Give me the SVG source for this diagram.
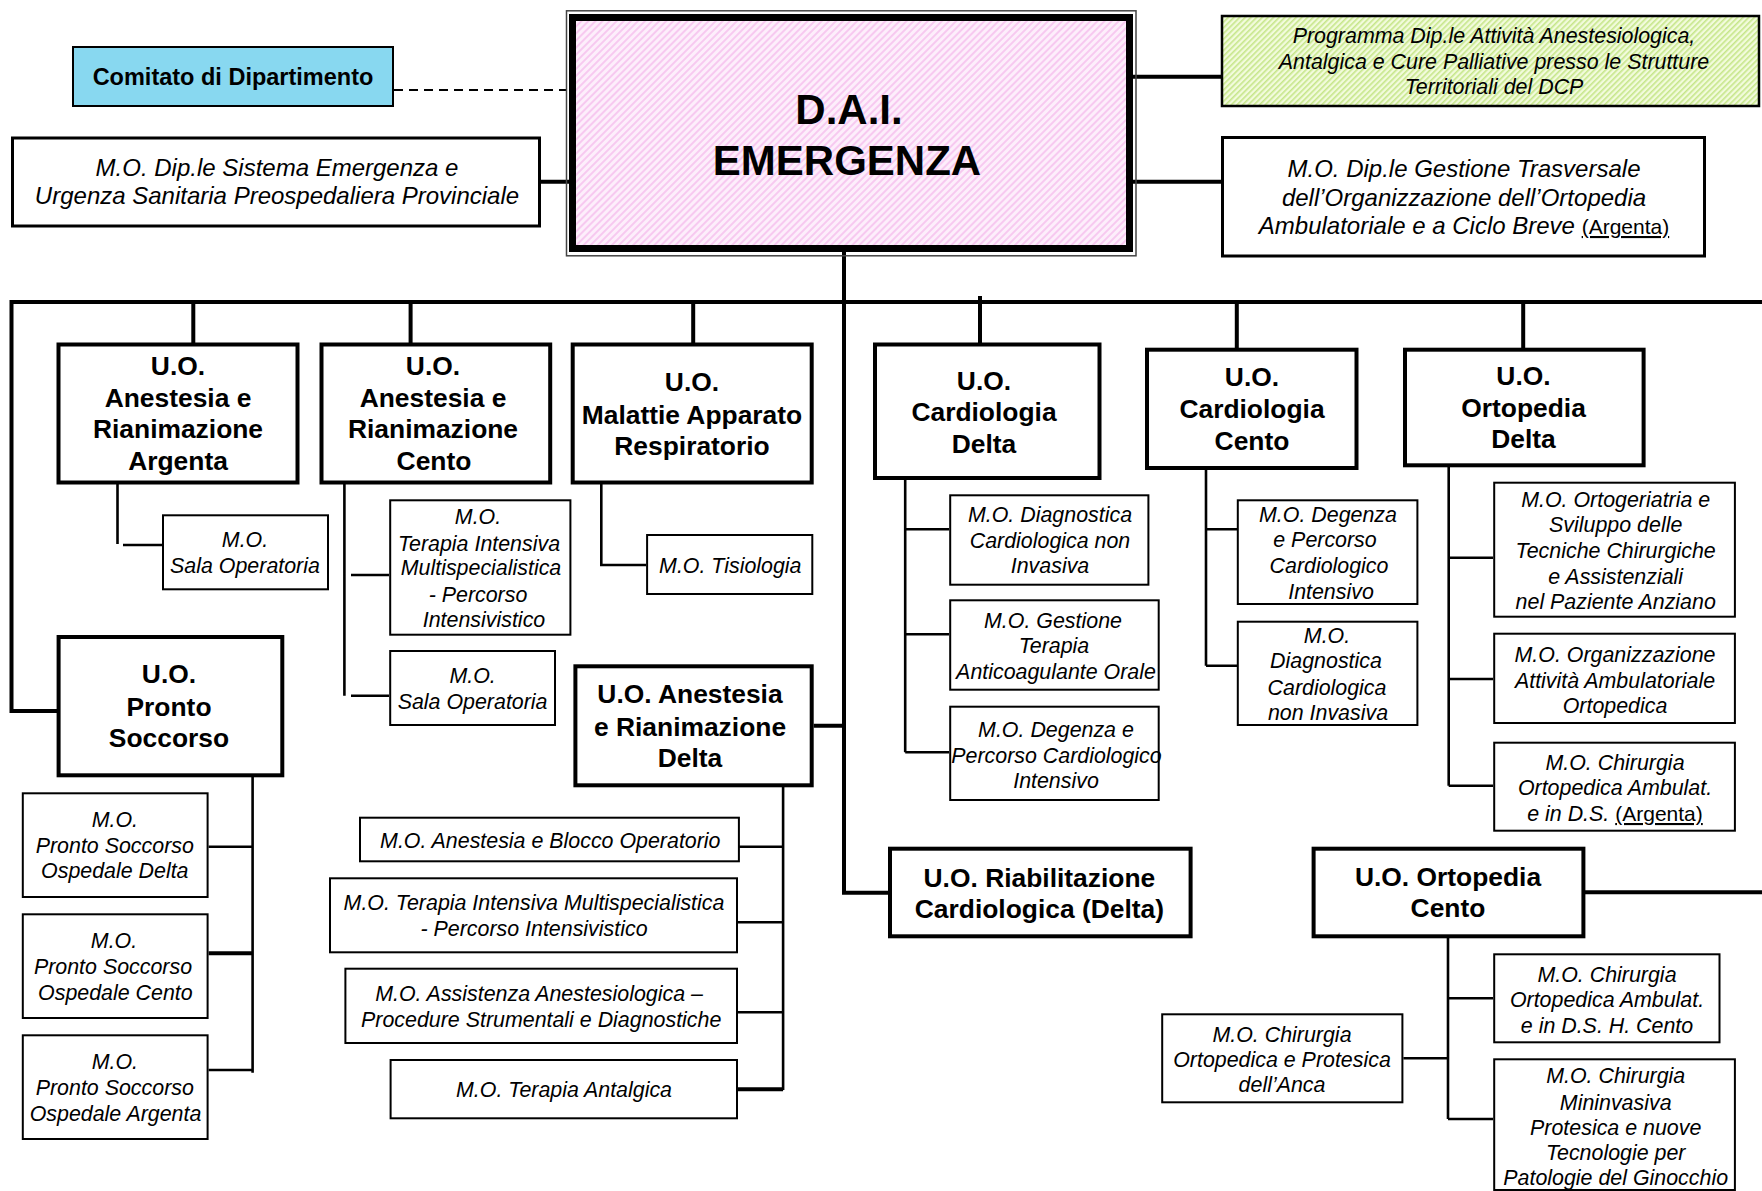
<svg xmlns="http://www.w3.org/2000/svg" width="1762" height="1191" viewBox="0 0 1762 1191">
<style>
text{font-family:"Liberation Sans",Arial,Helvetica,sans-serif;text-anchor:middle;fill:#000}
.tb{font-weight:bold;font-size:26.4px}
.ti{font-style:italic;font-size:21.4px}
.tt{font-style:italic;font-size:24px}
.uo{fill:#fff;stroke:#000;stroke-width:4}
.mo{fill:#fff;stroke:#000;stroke-width:2}
.top{fill:#fff;stroke:#000;stroke-width:3}
.k{stroke:#000;stroke-width:4;fill:none}
.s{stroke:#000;stroke-width:2.6;fill:none}
.u{font-style:normal;text-decoration:underline;font-size:21px}
</style>
<defs>
<pattern id="pink" width="5" height="5" patternUnits="userSpaceOnUse" patternTransform="rotate(45)">
<rect width="5" height="5" fill="#fdeefb"/><rect width="2" height="5" fill="#f7c9f0"/>
</pattern>
<pattern id="green" width="4" height="4" patternUnits="userSpaceOnUse" patternTransform="rotate(45)">
<rect width="4" height="4" fill="#f2fbdc"/><rect width="1.6" height="4" fill="#c6e68a"/>
</pattern>
</defs>
<rect width="1762" height="1191" fill="#fff"/>

<g id="connectors">
<line x1="394" y1="90" x2="566" y2="90" stroke="#000" stroke-width="2" stroke-dasharray="9 6"/>
<path class="k" d="M540 181.7H570M1133 76.7H1221M1133 181.7H1221"/>
<path class="k" d="M11.5 302H1762M11.5 300V711H57M193.3 302V343M410.6 302V343M693.2 300V343M980 296V343M1236.8 302V348M1523.2 302V348"/>
<path class="k" d="M844 252V892.7H889M813.7 725.7H844M1585 892.3H1762"/>
<path class="s" stroke-width="2" d="M117.5 484V544"/>
<path class="s" d="M123 545H162"/>
<path class="s" d="M344.4 484V695.7M351 575H389M351 695.7H389"/>
<path class="s" d="M601.3 484V565H646"/>
<path class="s" d="M905.2 480V752.3M905.2 529.3H949M905.2 634.3H949M905.2 752.3H949"/>
<path class="s" d="M1206 470V665.7M1206 529.3H1237M1206 665.7H1237"/>
<path class="s" d="M1448.7 467V785.7M1448.7 557.7H1493M1448.7 679H1493M1448.7 785.7H1493"/>
<path class="s" d="M252.6 777V1072.7M208.6 846.7H252.6M208.6 1070H252.6"/>
<path class="k" stroke-width="3.4" d="M208.6 953.3H252.6"/>
<path class="s" d="M783.1 787V1090M738 846.7H783.1M738 922.3H783.1M738 1012.3H783.1"/>
<path class="k" stroke-width="3.4" d="M738 1089.3H783.1"/>
<path class="s" d="M1448 938V1119M1448 998.3H1493M1403.4 1058.3H1448M1448 1119H1493"/>
</g>

<g id="comitato">
<rect x="73" y="47" width="320" height="59" fill="#88d8f0" stroke="#000" stroke-width="2"/>
<text x="233" y="85" font-weight="bold" font-size="23.5">Comitato di Dipartimento</text>
</g>

<g id="mo-sistema">
<rect class="top" x="12.5" y="138" width="527" height="88"/>
<text class="tt" x="277" y="176">M.O. Dip.le Sistema Emergenza e</text>
<text class="tt" x="277" y="204.3">Urgenza Sanitaria Preospedaliera Provinciale</text>
</g>

<g id="dai">
<rect x="566.5" y="10.8" width="569.5" height="245" fill="none" stroke="#444" stroke-width="1.5"/>
<rect x="572.5" y="17.5" width="557" height="231" fill="url(#pink)" stroke="#000" stroke-width="7"/>
<text x="849" y="124" font-weight="bold" font-size="42">D.A.I.</text>
<text x="847" y="175" font-weight="bold" font-size="42">EMERGENZA</text>
</g>

<g id="programma">
<rect x="1222" y="16" width="537" height="90" fill="url(#green)" stroke="#000" stroke-width="2.5"/>
<text class="ti" x="1494" y="43.3">Programma Dip.le Attività Anestesiologica,</text>
<text class="ti" x="1494" y="69">Antalgica e Cure Palliative presso le Strutture</text>
<text class="ti" x="1494" y="94">Territoriali del DCP</text>
</g>

<g id="mo-gestione">
<rect class="top" x="1222.5" y="137.5" width="482" height="118.5"/>
<text class="tt" x="1464" y="177">M.O. Dip.le Gestione Trasversale</text>
<text class="tt" x="1464" y="205.5">dell’Organizzazione dell’Ortopedia</text>
<text class="tt" x="1464" y="234">Ambulatoriale e a Ciclo Breve <tspan class="u">(Argenta)</tspan></text>
</g>

<g id="uo-anestesia-argenta">
<rect class="uo" x="58.5" y="344.5" width="239" height="138"/>
<text class="tb" x="178" y="375">U.O.</text>
<text class="tb" x="178" y="406.7">Anestesia e</text>
<text class="tb" x="178" y="438.3">Rianimazione</text>
<text class="tb" x="178" y="470">Argenta</text>
</g>
<g id="mo-sala-argenta">
<rect class="mo" x="163" y="515.3" width="165" height="74"/>
<text class="ti" x="245" y="546.7">M.O.</text>
<text class="ti" x="245" y="573.3">Sala Operatoria</text>
</g>

<g id="uo-anestesia-cento">
<rect class="uo" x="321.5" y="344.5" width="228.7" height="138"/>
<text class="tb" x="433" y="375">U.O.</text>
<text class="tb" x="433" y="406.7">Anestesia e</text>
<text class="tb" x="433" y="438.3">Rianimazione</text>
<text class="tb" x="434" y="470">Cento</text>
</g>
<g id="mo-ti-cento">
<rect class="mo" x="390.2" y="500.3" width="180.2" height="134.4"/>
<text class="ti" x="478" y="524.3">M.O.</text>
<text class="ti" x="479" y="550.7">Terapia Intensiva</text>
<text class="ti" x="481" y="575">Multispecialistica</text>
<text class="ti" x="478" y="601.7">- Percorso</text>
<text class="ti" x="484" y="626.7">Intensivistico</text>
</g>
<g id="mo-sala-cento">
<rect class="mo" x="390.2" y="651" width="164.8" height="74"/>
<text class="ti" x="472.6" y="683.3">M.O.</text>
<text class="ti" x="472.6" y="709.3">Sala Operatoria</text>
</g>

<g id="uo-malattie">
<rect class="uo" x="572.7" y="344.5" width="239" height="138"/>
<text class="tb" x="692" y="390.7">U.O.</text>
<text class="tb" x="692" y="424">Malattie Apparato</text>
<text class="tb" x="692" y="455">Respiratorio</text>
</g>
<g id="mo-tisiologia">
<rect class="mo" x="647.1" y="535" width="165.2" height="59"/>
<text class="ti" x="730.3" y="572.7">M.O. Tisiologia</text>
</g>

<g id="uo-cardiologia-delta">
<rect class="uo" x="875" y="344.5" width="224.5" height="133.5"/>
<text class="tb" x="984" y="390">U.O.</text>
<text class="tb" x="984" y="420.7">Cardiologia</text>
<text class="tb" x="984" y="452.7">Delta</text>
</g>
<g id="mo-diagnostica-delta">
<rect class="mo" x="950.2" y="495.3" width="198.2" height="89.4"/>
<text class="ti" x="1050" y="522.3">M.O. Diagnostica</text>
<text class="ti" x="1050" y="548.3">Cardiologica non</text>
<text class="ti" x="1050" y="573.3">Invasiva</text>
</g>
<g id="mo-tao">
<rect class="mo" x="950.2" y="600.3" width="208.5" height="89.4"/>
<text class="ti" x="1053" y="628.3">M.O. Gestione</text>
<text class="ti" x="1054" y="653.3">Terapia</text>
<text class="ti" x="1056" y="679.3">Anticoagulante Orale</text>
</g>
<g id="mo-degenza-delta">
<rect class="mo" x="950.2" y="706.7" width="208.5" height="93.3"/>
<text class="ti" x="1056" y="736.7">M.O. Degenza e</text>
<text class="ti" x="1056.5" y="762.7">Percorso Cardiologico</text>
<text class="ti" x="1056" y="787.7">Intensivo</text>
</g>

<g id="uo-cardiologia-cento">
<rect class="uo" x="1147" y="349.7" width="209.5" height="118.3"/>
<text class="tb" x="1252" y="386">U.O.</text>
<text class="tb" x="1252" y="418.3">Cardiologia</text>
<text class="tb" x="1252" y="450">Cento</text>
</g>
<g id="mo-degenza-cento">
<rect class="mo" x="1237.8" y="500.3" width="179.6" height="103.7"/>
<text class="ti" x="1328" y="522.3">M.O. Degenza</text>
<text class="ti" x="1325" y="547.3">e Percorso</text>
<text class="ti" x="1329" y="573.3">Cardiologico</text>
<text class="ti" x="1331" y="599.3">Intensivo</text>
</g>
<g id="mo-diagnostica-cento">
<rect class="mo" x="1237.8" y="621.7" width="179.6" height="103.3"/>
<text class="ti" x="1327" y="643.3">M.O.</text>
<text class="ti" x="1326" y="668.3">Diagnostica</text>
<text class="ti" x="1327" y="695">Cardiologica</text>
<text class="ti" x="1328" y="720">non Invasiva</text>
</g>

<g id="uo-ortopedia-delta">
<rect class="uo" x="1405" y="349.7" width="238.6" height="115.6"/>
<text class="tb" x="1523.5" y="385">U.O.</text>
<text class="tb" x="1523.5" y="416.7">Ortopedia</text>
<text class="tb" x="1523.5" y="448.3">Delta</text>
</g>
<g id="mo-ortogeriatria">
<rect class="mo" x="1494.2" y="482.7" width="240.7" height="134"/>
<text class="ti" x="1615.7" y="506.7">M.O. Ortogeriatria e</text>
<text class="ti" x="1615.7" y="532.3">Sviluppo delle</text>
<text class="ti" x="1615.7" y="558.3">Tecniche Chirurgiche</text>
<text class="ti" x="1615.7" y="584">e Assistenziali</text>
<text class="ti" x="1615.7" y="609.3">nel Paziente  Anziano</text>
</g>
<g id="mo-organizzazione">
<rect class="mo" x="1494.2" y="633.7" width="240.7" height="89.3"/>
<text class="ti" x="1615" y="661.7">M.O. Organizzazione</text>
<text class="ti" x="1615" y="687.7">Attività Ambulatoriale</text>
<text class="ti" x="1615" y="712.7">Ortopedica</text>
</g>
<g id="mo-chirurgia-argenta">
<rect class="mo" x="1494.2" y="742.7" width="240.7" height="88"/>
<text class="ti" x="1615" y="770">M.O. Chirurgia</text>
<text class="ti" x="1615" y="795">Ortopedica Ambulat.</text>
<text class="ti" x="1615" y="821">e in D.S. <tspan class="u">(Argenta)</tspan></text>
</g>

<g id="uo-pronto-soccorso">
<rect class="uo" x="58.6" y="637" width="223.7" height="138.3"/>
<text class="tb" x="169" y="683.3">U.O.</text>
<text class="tb" x="169" y="715.7">Pronto</text>
<text class="tb" x="169" y="747.3">Soccorso</text>
</g>
<g id="mo-ps-delta">
<rect class="mo" x="22.8" y="793.3" width="184.8" height="103.7"/>
<text class="ti" x="114.8" y="827.3">M.O.</text>
<text class="ti" x="114.8" y="853.3">Pronto Soccorso</text>
<text class="ti" x="114.8" y="878.3">Ospedale Delta</text>
</g>
<g id="mo-ps-cento">
<rect class="mo" x="22.8" y="914.3" width="184.8" height="103.7"/>
<text class="ti" x="114" y="948.3">M.O.</text>
<text class="ti" x="113" y="974">Pronto Soccorso</text>
<text class="ti" x="115.4" y="1000">Ospedale Cento</text>
</g>
<g id="mo-ps-argenta">
<rect class="mo" x="22.8" y="1035.3" width="184.8" height="103.7"/>
<text class="ti" x="114.8" y="1069">M.O.</text>
<text class="ti" x="114.8" y="1095">Pronto Soccorso</text>
<text class="ti" x="115.5" y="1121">Ospedale Argenta</text>
</g>

<g id="uo-anestesia-delta">
<rect class="uo" x="575.4" y="666.3" width="236.3" height="119"/>
<text class="tb" x="690" y="703.3">U.O. Anestesia</text>
<text class="tb" x="690" y="735.7">e Rianimazione</text>
<text class="tb" x="690" y="767.3">Delta</text>
</g>
<g id="mo-blocco">
<rect class="mo" x="360" y="817.7" width="378.9" height="43.6"/>
<text class="ti" x="550.3" y="848.3">M.O. Anestesia e Blocco Operatorio</text>
</g>
<g id="mo-ti-delta">
<rect class="mo" x="330" y="878.3" width="407" height="74"/>
<text class="ti" x="534" y="910">M.O. Terapia Intensiva Multispecialistica</text>
<text class="ti" x="534" y="935.7">- Percorso Intensivistico</text>
</g>
<g id="mo-assistenza">
<rect class="mo" x="345.4" y="968.7" width="391.6" height="74.3"/>
<text class="ti" x="539" y="1001">M.O. Assistenza Anestesiologica –</text>
<text class="ti" x="541.2" y="1026.7">Procedure Strumentali e Diagnostiche</text>
</g>
<g id="mo-antalgica">
<rect class="mo" x="390.6" y="1060" width="346.4" height="58.3"/>
<text class="ti" x="564" y="1096.7">M.O. Terapia Antalgica</text>
</g>

<g id="uo-riabilitazione">
<rect class="uo" x="890" y="848.7" width="300.6" height="87.6"/>
<text class="tb" x="1039.4" y="886.7">U.O. Riabilitazione</text>
<text class="tb" x="1039.4" y="918.3">Cardiologica (Delta)</text>
</g>

<g id="uo-ortopedia-cento">
<rect class="uo" x="1313.6" y="848.7" width="269.8" height="87.6"/>
<text class="tb" x="1448" y="886">U.O. Ortopedia</text>
<text class="tb" x="1448" y="917.3">Cento</text>
</g>
<g id="mo-chirurgia-cento">
<rect class="mo" x="1494.2" y="954.3" width="225.3" height="88"/>
<text class="ti" x="1607" y="981.7">M.O. Chirurgia</text>
<text class="ti" x="1607" y="1007.3">Ortopedica Ambulat.</text>
<text class="ti" x="1607" y="1032.7">e in D.S. H. Cento</text>
</g>
<g id="mo-mininvasiva">
<rect class="mo" x="1494.2" y="1059.3" width="240.7" height="130.7"/>
<text class="ti" x="1615.7" y="1083.3">M.O. Chirurgia</text>
<text class="ti" x="1615.7" y="1110">Mininvasiva</text>
<text class="ti" x="1615.7" y="1135">Protesica e nuove</text>
<text class="ti" x="1615.7" y="1160">Tecnologie per</text>
<text class="ti" x="1615.7" y="1185">Patologie del Ginocchio</text>
</g>
<g id="mo-anca">
<rect class="mo" x="1162.2" y="1014.3" width="240.2" height="88"/>
<text class="ti" x="1282" y="1041.7">M.O. Chirurgia</text>
<text class="ti" x="1282" y="1066.7">Ortopedica e Protesica</text>
<text class="ti" x="1282" y="1091.7">dell’Anca</text>
</g>
</svg>
